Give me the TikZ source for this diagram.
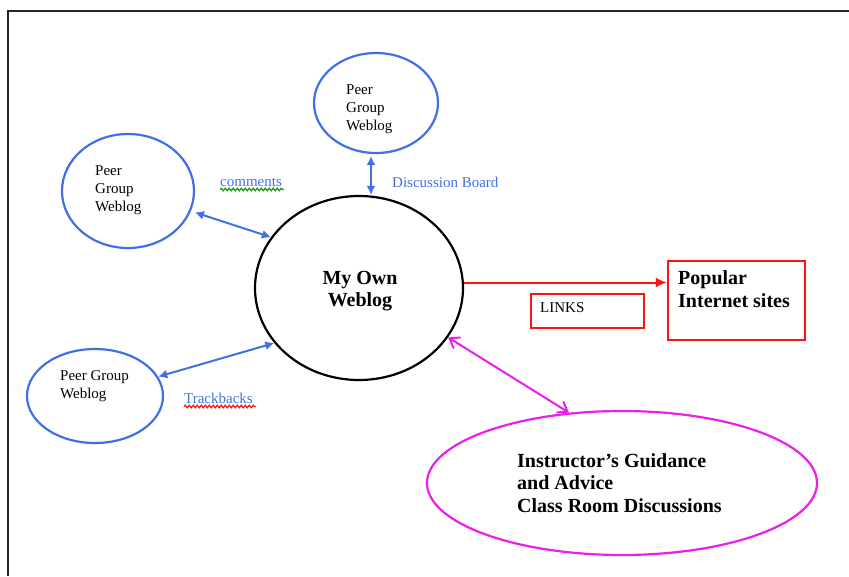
\documentclass[tikz,border=0pt]{standalone}
\usepackage{fontspec}
\setmainfont{Liberation Serif}
\usetikzlibrary{shapes.geometric,arrows.meta,decorations.pathmorphing}
\definecolor{peerblue}{RGB}{66,112,228}
\definecolor{linkred}{RGB}{250,20,20}
\definecolor{instmag}{RGB}{236,30,236}
\definecolor{spellgreen}{RGB}{30,150,30}
\begin{document}
\begin{tikzpicture}[x=1pt,y=-1pt,
  peer/.style={ellipse,draw=peerblue,line width=2.2,inner sep=0},
  small/.style={font=\fontsize{15}{18}\selectfont,inner sep=0,align=left,anchor=west},
  bigtxt/.style={font=\fontsize{20}{22.5}\selectfont\bfseries,inner sep=0,align=left,anchor=west},
  bluearrow/.style={draw=peerblue,line width=2,{Latex[length=9,width=9]}-{Latex[length=9,width=9]}},
  squig/.style={decorate,decoration={snake,amplitude=1.3,segment length=4},line width=1.2}]
\useasboundingbox (0,0) rectangle (849,576);
% frame
\draw[line width=1.4,black!85] (8,576) -- (8,11) -- (849,11);
% main circle
\node[ellipse,draw=black,line width=2.2,minimum width=208,minimum height=184,inner sep=0] (main) at (359,288) {};
\node[bigtxt,anchor=center,align=center] (maintxt) at (360,291) {My Own\\Weblog};
% peer ellipses
\node[peer,minimum width=124,minimum height=100] (ptop) at (376,103) {};
\node[small] (ptoptxt) at (346,109) {Peer\\Group\\Weblog};
\node[peer,minimum width=132,minimum height=114] (pleft) at (128,191) {};
\node[small] (plefttxt) at (95,190) {Peer\\Group\\Weblog};
\node[peer,minimum width=136,minimum height=94] (pbot) at (95,396) {};
\node[small] (pbottxt) at (60,386) {Peer Group\\Weblog};
% labels
\node[small,text=peerblue] (disc) at (392,182) {Discussion Board};
\node[small,text=peerblue] (comm) at (220,182) {comments};
\draw[squig,spellgreen] (comm.south west) ++(0,3) -- ++(64,0);
\node[small,text=peerblue] (track) at (184,398) {Trackbacks};
\draw[squig,linkred] (track.south west) ++(0,3) -- ++(72,0);
% blue connectors
\coordinate (vx) at (371,0);
\draw[bluearrow] (vx |- ptop.south) ++(0,2) -- (vx |- main.north);
\draw[bluearrow] (pleft.-18) ++(4,1) -- (main.150);
\draw[bluearrow] (pbot.17) -- (main.213);
% popular sites
\node[draw=linkred,line width=2.2,minimum width=137,minimum height=79,inner sep=0] (pop) at (736.5,300.5) {};
\node[bigtxt] (poptxt) at (678,289) {Popular\\Internet sites};
\draw[linkred,line width=2,-{Latex[length=11,width=10]}] (main.3) -- (main.3 -| pop.west);
% links box
\node[draw=linkred,line width=2.2,minimum width=113,minimum height=34,inner sep=0] (links) at (587.5,311) {};
\node[small] (linkstxt) at (540,308) {LINKS};
% instructor ellipse
\node[ellipse,draw=instmag,line width=2.2,minimum width=390,minimum height=144,inner sep=0] (inst) at (622,483) {};
\node[bigtxt] (insttxt) at (517,483) {Instructor’s Guidance\\and Advice\\Class Room Discussions};
\draw[instmag,line width=2,{Straight Barb[length=9,width=13]}-{Straight Barb[length=9,width=13]}] (main.-29) -- (inst.127);
\end{tikzpicture}
\end{document}
